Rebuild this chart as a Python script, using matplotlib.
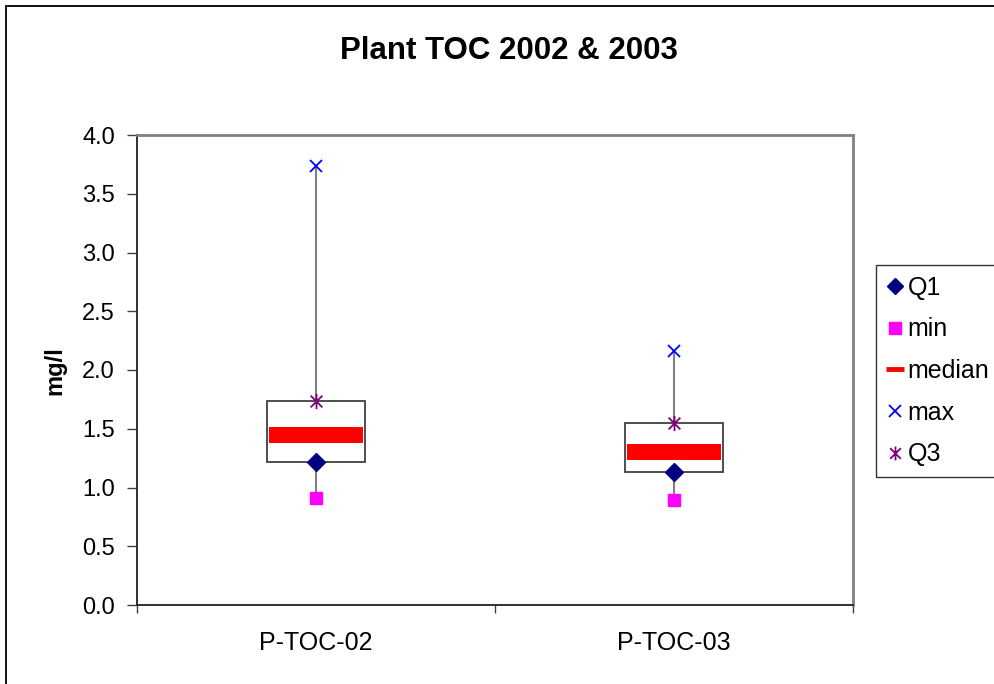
import matplotlib.pyplot as plt
from matplotlib.path import Path
from matplotlib.patches import Rectangle
from matplotlib.lines import Line2D

plt.rcParams['font.family'] = ['Liberation Sans', 'DejaVu Sans']

# data (mg/l)
categories = ['P-TOC-02', 'P-TOC-03']
q1_vals = [1.22, 1.13]
min_vals = [0.91, 0.89]
median_vals = [1.45, 1.30]
max_vals = [3.74, 2.16]
q3_vals = [1.74, 1.55]

# Excel style "star" marker: an x with a vertical bar through it
star = Path([(-1, -1), (1, 1), (-1, 1), (1, -1), (0, -1.3), (0, 1.3)],
            [Path.MOVETO, Path.LINETO, Path.MOVETO, Path.LINETO, Path.MOVETO, Path.LINETO])


def create_plot():
    fig = plt.figure(figsize=(9.95, 6.84), dpi=100)
    ax = fig.add_axes([137 / 995, 1 - 605 / 684, 716 / 995, 470 / 684])

    box_half = 0.137
    med_half = 0.131
    xs = list(range(len(categories)))

    for i in xs:
        ax.plot([i, i], [min_vals[i], max_vals[i]], color='#808080', lw=1.5, zorder=1)
        ax.add_patch(Rectangle((i - box_half, q1_vals[i]), 2 * box_half, q3_vals[i] - q1_vals[i],
                               facecolor='white', edgecolor='#404040', lw=1.3, zorder=2))
        ax.plot([i - med_half, i + med_half], [median_vals[i], median_vals[i]],
                color='#ff0000', lw=11.5, solid_capstyle='butt', zorder=3)

    ax.plot(xs, q1_vals, ls='none', marker='D', ms=9, color='#000080', zorder=4)
    ax.plot(xs, min_vals, ls='none', marker='s', ms=8.5, color='#ff00ff', zorder=4)
    ax.plot(xs, max_vals, ls='none', marker='x', ms=9, mew=1.3, color='#0000ff', zorder=4)
    ax.plot(xs, q3_vals, ls='none', marker=star, ms=11, mew=1.3, color='#800080', zorder=4)

    ax.set_xlim(-0.5, len(categories) - 0.5)
    ax.set_ylim(0, 4.0)
    ax.set_yticks([i * 0.5 for i in range(9)])
    ax.set_yticklabels(['%.1f' % (i * 0.5) for i in range(9)])
    ax.set_xticks([i - 0.5 for i in range(len(categories) + 1)])
    ax.set_xticklabels([])
    ax.set_xticks(xs, minor=True)
    ax.set_xticklabels(categories, minor=True)
    ax.tick_params(axis='x', which='major', length=6, width=1, color='#404040')
    ax.tick_params(axis='x', which='minor', length=0, pad=19, labelsize=18)
    ax.tick_params(axis='y', length=7, width=1, color='#404040', pad=9, labelsize=17)

    for s in ['top', 'right']:
        ax.spines[s].set_color('#808080')
        ax.spines[s].set_linewidth(2)
    for s in ['left', 'bottom']:
        ax.spines[s].set_color('#202020')
        ax.spines[s].set_linewidth(1.3)

    fig.text(55 / 995, 1 - 371 / 684, 'mg/l', rotation=90, ha='center', va='center',
             fontsize=17, fontweight='bold')
    fig.text(509 / 995, 1 - 51 / 684, 'Plant TOC 2002 & 2003', ha='center', va='center',
             fontsize=22.5, fontweight='bold')

    # figure frame (right and bottom edges run off the picture)
    fig.patches.append(Rectangle((6 / 995, -0.1), 1.2, 1 - 6 / 684 + 0.1, transform=fig.transFigure,
                                 fill=False, edgecolor='black', lw=1.3))

    handles = [
        Line2D([], [], ls='none', marker='D', ms=8, color='#000080'),
        Line2D([], [], ls='none', marker='s', ms=8, color='#ff00ff'),
        Line2D([], [], color='#ff0000', lw=3.5, solid_capstyle='butt'),
        Line2D([], [], ls='none', marker='x', ms=9, mew=1.3, color='#0000ff'),
        Line2D([], [], ls='none', marker=star, ms=10, mew=1.3, color='#800080'),
    ]
    leg = fig.legend(handles, ['Q1', 'min', 'median', 'max', 'Q3'],
                     loc='upper left', bbox_to_anchor=(876 / 995, 1 - 265 / 684),
                     fontsize=18, frameon=True, fancybox=False, edgecolor='black',
                     handlelength=0.7, handletextpad=0.15, labelspacing=0.71,
                     borderpad=0.42, borderaxespad=0)
    leg.get_frame().set_linewidth(1.0)

    plt.savefig('out.png', dpi=100)
    plt.close()


if __name__ == "__main__":
    create_plot()
